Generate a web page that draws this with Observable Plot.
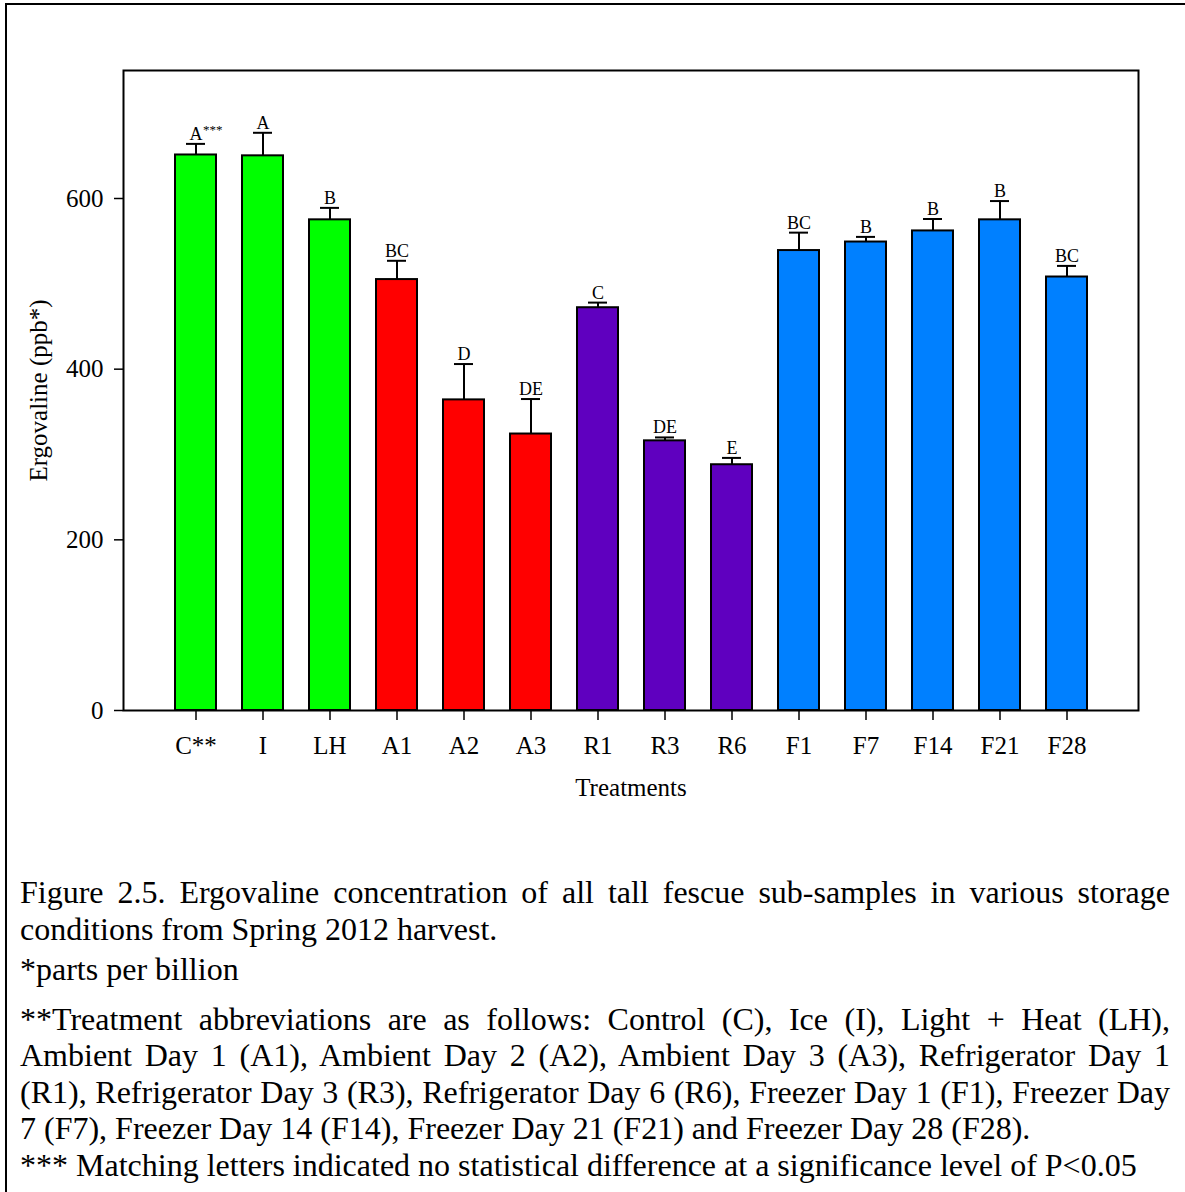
<!DOCTYPE html>
<html><head><meta charset="utf-8">
<script src="https://cdn.jsdelivr.net/npm/d3@7"></script>
<script src="https://cdn.jsdelivr.net/npm/@observablehq/plot@0.6"></script>
<style>
html,body{margin:0;padding:0;background:#fff;}
body{width:1185px;height:1192px;overflow:hidden;position:relative;font-family:"Liberation Serif","Times New Roman",serif;color:#000;}
#border{position:absolute;left:5px;top:3px;width:1300px;height:1300px;border-left:2.5px solid #000;border-top:2.5px solid #000;box-sizing:border-box;}
#chart{position:absolute;left:0;top:0;}
#caption{position:absolute;left:20px;top:874px;width:1150px;font-size:32px;line-height:36.5px;}
#caption .l{text-align:justify;text-align-last:justify;}
#caption .e{text-align:left;}
#caption .p{margin-bottom:4px;}
#caption .p2{margin-bottom:13px;}
#caption .p3{margin-bottom:0px;}
</style></head>
<body>
<div id="border"></div>
<div id="chart"></div>
<div id="caption">
  <div class="p">
    <div class="l">Figure 2.5. Ergovaline concentration of all tall fescue sub-samples in various storage</div>
    <div class="e">conditions from Spring 2012 harvest.</div>
  </div>
  <div class="p2"><div class="e">*parts per billion</div></div>
  <div class="p3">
    <div class="l">**Treatment abbreviations are as follows: Control (C), Ice (I), Light + Heat (LH),</div>
    <div class="l">Ambient Day 1 (A1), Ambient Day 2 (A2), Ambient Day 3 (A3), Refrigerator Day 1</div>
    <div class="l">(R1), Refrigerator Day 3 (R3), Refrigerator Day 6 (R6), Freezer Day 1 (F1), Freezer Day</div>
    <div class="e">7 (F7), Freezer Day 14 (F14), Freezer Day 21 (F21) and Freezer Day 28 (F28).</div>
  </div>
  <div><div class="e">*** Matching letters indicated no statistical difference at a significance level of P&lt;0.05</div></div>
</div>
<script>
const treatments = ["C**","I","LH","A1","A2","A3","R1","R3","R6","F1","F7","F14","F21","F28"];
const means      = [651, 650, 575, 505, 364, 324, 472, 316, 288, 539, 549, 562, 575, 508];
const errors     = [13,  27,  14,  22,  42,  41,  6,   4,   8,   21,  6,   14,  22,  13];
const letters    = ["A","A","B","BC","D","DE","C","DE","E","BC","B","B","B","BC"];
const groups     = ["G","G","G","A","A","A","R","R","R","F","F","F","F","F"];
const groupNames = ["G","A","R","F"];
const groupColors = ["#00ff00","#ff0000","#5f00bf","#0080ff"];
const yTicks = [0,200,400,600];

const data = treatments.map((t,i)=>({t, v:means[i], e:errors[i], top:means[i]+errors[i], lab:letters[i], g:groups[i]}));

const font = '"Liberation Serif","Times New Roman",serif';
const chart = Plot.plot({
  width: 1185,
  height: 820,
  marginLeft: 123,
  marginRight: 47,
  marginTop: 70,
  marginBottom: 110,
  style: {fontFamily: font, fontSize: "25px", color: "#000", background: "transparent"},
  x: {domain: treatments, paddingInner: 0.394, paddingOuter: 0.697, label: null},
  y: {domain: [0, 750], label: null},
  color: {domain: groupNames, range: groupColors},
  marks: [
    Plot.barY(data, {x:"t", y:"v", fill:"g", stroke:"#000", strokeWidth:2}),
    Plot.ruleX(data, {x:"t", y1:"v", y2:"top", stroke:"#000", strokeWidth:2}),
    Plot.tickY(data, {x:"t", y:"top", stroke:"#000", strokeWidth:2, insetLeft:11, insetRight:11}),
    Plot.text(data, {x:"t", y:"top", text:"lab", lineAnchor:"bottom", dy:-4, fontSize:18, fill:"#000"}),
    Plot.text(data.slice(0,1), {x:"t", y:"top", text:()=>"***", lineAnchor:"bottom", textAnchor:"start", dx:7, dy:-10, fontSize:13, fill:"#000"}),
    Plot.frame({stroke:"#000", strokeWidth:2}),
    Plot.axisY({ticks: yTicks, tickSize: 9, tickPadding: 11, tickFormat: d=>String(d), fontSize: 25, stroke:"#000", fill:"#000", strokeWidth:1.5,
      label: "Ergovaline (ppb*)", labelAnchor: "center", labelArrow: "none", labelOffset: 94}),
    Plot.axisX({tickSize: 10, tickPadding: 16, fontSize: 25, stroke:"#000", fill:"#000", strokeWidth:1.5,
      label: "Treatments", labelAnchor: "center", labelArrow: "none", labelOffset: 85})
  ]
});
document.getElementById("chart").appendChild(chart);
</script>
</body></html>
